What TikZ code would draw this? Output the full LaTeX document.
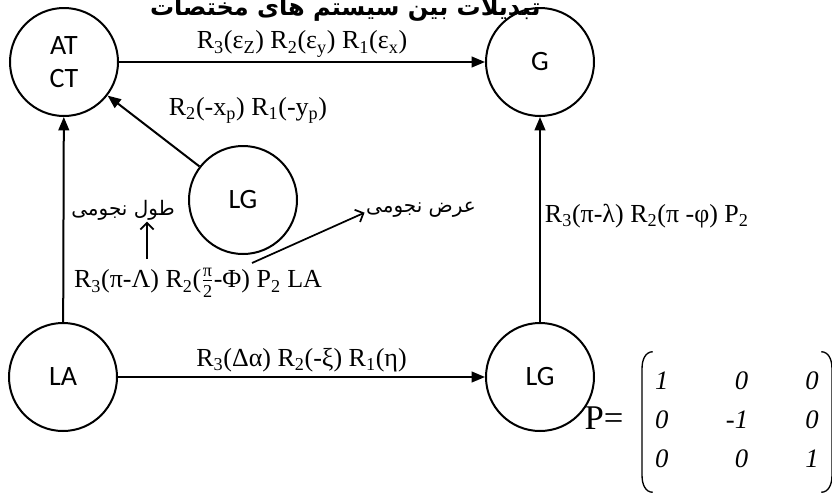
\documentclass[tikz,border=0pt]{standalone}
\usepackage{fontspec}
\usepackage{amsmath}
\usetikzlibrary{positioning,arrows.meta}
\setmainfont{Liberation Serif}
\newfontfamily\frameface{Carlito}
\newfontfamily\farsi[Script=Arabic]{DejaVu Sans}
\TeXXeTstate=1

\begin{document}
\begin{tikzpicture}[x=0.75pt,y=-0.75pt,
  frame/.style={draw, circle, line width=1.5pt, minimum size=81pt, inner sep=0pt,
                font=\frameface\fontsize{21}{23}\selectfont, align=center},
  conn/.style={line width=1.5pt, -{Triangle[length=10pt,width=8pt]}},
  hint/.style={line width=1.3pt, -{Straight Barb[length=5pt,width=10pt]}},
  rot/.style={font=\fontsize{19.5}{22}\selectfont, inner sep=2pt},
  fa/.style={font=\farsi\fontsize{15}{17}\selectfont, inner sep=1pt},
  paren/.style={line width=1pt}
]
\useasboundingbox (0,0) rectangle (832,493);

\node[frame] (atct) at (64,62)  {AT\\[2pt]CT};
\node[frame] (g)    at (540,62) {G};
\node[frame] (lgm)  at (243,200) {LG};
\node[frame] (la)   at (63,377) {LA};
\node[frame] (lg)   at (540,377) {LG};

\node[font=\farsi\bfseries\fontsize{18}{20}\selectfont, inner sep=0pt, anchor=base east] (title) at (541,15)
    {\beginR تبدیلات بین سیستم های مختصات\endR};

\draw[conn] (atct) -- (g)
    node[rot, midway, above=1pt] (epsrot) {R\textsubscript{3}(ε\textsubscript{Z}) R\textsubscript{2}(ε\textsubscript{y}) R\textsubscript{1}(ε\textsubscript{x})};
\draw[conn] (lgm) -- (atct);
\node[rot] (polar) at (248,110) {R\textsubscript{2}(-x\textsubscript{p}) R\textsubscript{1}(-y\textsubscript{p})};
\draw[conn] (la) -- (atct);
\draw[conn] (la) -- (lg)
    node[rot, midway, above=1pt] (astro) {R\textsubscript{3}(Δα) R\textsubscript{2}(-ξ) R\textsubscript{1}(η)};
\draw[conn] (lg) -- (g);
\node[rot, anchor=west] (geod) at (542,216) {R\textsubscript{3}(π-λ) R\textsubscript{2}(π -φ) P\textsubscript{2}};

\node[rot] (laform) at (198,283) {R\textsubscript{3}(π-Λ) R\textsubscript{2}($\frac{\text{π}}{\text{2}}$-Φ) P\textsubscript{2} LA};
\node[fa] (tul) at (123,210) {\beginR طول نجومی\endR};
\node[fa] (arz) at (421,210) {\beginR عرض نجومی\endR};
\coordinate (tulfoot) at (147,259);
\coordinate (arzfoot) at (252,263);
\draw[hint] (tulfoot) -- (tulfoot |- tul.south);
\draw[hint] (arzfoot) -- ([yshift=-2pt]arz.west);

% P matrix
\node[font=\fontsize{26}{28}\selectfont, inner sep=0pt] (peq) at (604,418) {P=};
\node[font=\fontsize{20}{24}\selectfont, inner sep=0pt, minimum width=142pt, minimum height=105pt] (pmat) at (737,422)
    {$\begin{array}{@{}l@{\hspace{43pt}}r@{\hspace{43pt}}r@{}}
      \textit{1} & \textit{0} & \textit{0}\\[5pt]
      \textit{0} & \textit{-1} & \textit{0}\\[5pt]
      \textit{0} & \textit{0} & \textit{1}
     \end{array}$};
\draw[paren] ([xshift=8pt]pmat.north west) to[out=180,in=90] ([yshift=-12pt]pmat.north west)
    -- ([yshift=12pt]pmat.south west) to[out=-90,in=180] ([xshift=8pt]pmat.south west);
\draw[paren] ([xshift=-8pt]pmat.north east) to[out=0,in=90] ([yshift=-12pt]pmat.north east)
    -- ([yshift=12pt]pmat.south east) to[out=-90,in=0] ([xshift=-8pt]pmat.south east);
\end{tikzpicture}
\end{document}
